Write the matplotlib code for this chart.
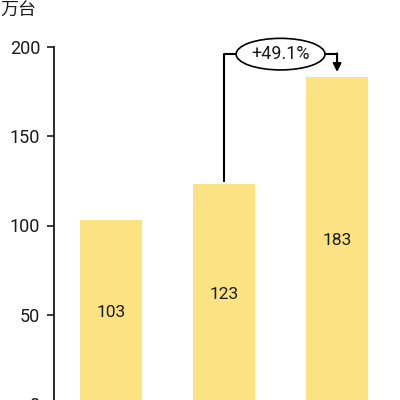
import matplotlib
matplotlib.use("Agg")
import matplotlib.pyplot as plt

plt.rcParams['font.family'] = ['Roboto', 'Noto Sans CJK SC', 'DejaVu Sans']

# data
categories = ['A', 'B', 'C']
values = [103, 123, 183]
growth_label = '+49.1%'
unit_label = '万台'
yticks = [0, 50, 100, 150, 200]

fig = plt.figure(figsize=(4, 4), dpi=100)
ax = fig.add_axes([0.135, -0.01, 0.849, 0.8925])

x = list(range(len(values)))
ax.bar(x, values, width=0.55, color='#FBE283')
for xi, v in zip(x, values):
    ax.text(xi, v / 2, str(v), ha='center', va='center', fontsize=12.5, color='#1a1a1a')

ax.set_xlim(-0.504, 2.5)
ax.set_ylim(0, 200)
ax.set_yticks(yticks)
ax.set_xticks([])
ax.tick_params(axis='y', labelsize=13, length=5, width=1.2, colors='#1a1a1a', pad=5)
for s in ['top', 'right', 'bottom']:
    ax.spines[s].set_visible(False)
ax.spines['left'].set_linewidth(1.3)
ax.spines['left'].set_color('#1a1a1a')

# growth bracket
top = 196
ax.plot([1, 1, 2], [values[1] + 2, top, top], color='black', lw=1.5, clip_on=False)
ax.annotate('', xy=(2, values[2] + 3), xytext=(2, top + 0.4),
            arrowprops=dict(arrowstyle='-|>', color='black', lw=1.5, mutation_scale=12,
                            shrinkA=0, shrinkB=0))
ax.text(1.5, top, growth_label, ha='center', va='center', fontsize=13, color='#1a1a1a',
        bbox=dict(boxstyle='ellipse,pad=0.12', fc='white', ec='black', lw=1.2))

fig.text(0.0, 0.995, unit_label, ha='left', va='top', fontsize=13, color='#1a1a1a')

fig.savefig('out.png', dpi=100)
